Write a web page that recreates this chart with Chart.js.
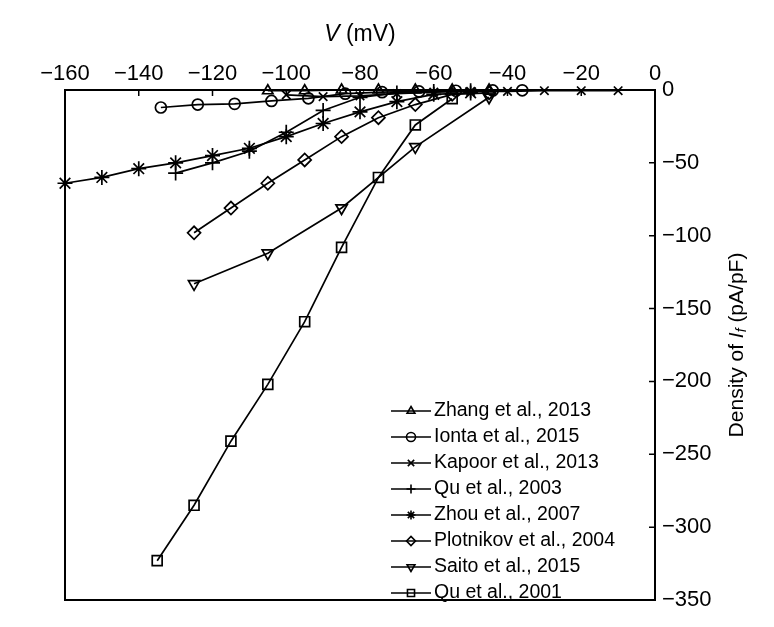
<!DOCTYPE html>
<html>
<head>
<meta charset="utf-8">
<script src="https://cdn.jsdelivr.net/npm/chart.js@4.4.0/dist/chart.umd.min.js"></script>
<style>
  html, body { margin: 0; padding: 0; background: #fff; }
  #wrap { width: 774px; height: 627px; }
</style>
</head>
<body>
<div id="wrap"><canvas id="ivChart" width="774" height="627"></canvas></div>
<script>
// Voltage (mV) and current density (pA/pF)
const zhangV = [-105, -95, -85, -75, -65, -55, -45];
const zhangI = [-0.5, -0.5, 0, 0, 0, 0, 0];

const iontaV = [-134, -124, -114, -104, -94, -84, -74, -64, -54, -44, -36];
const iontaI = [-12, -10, -9.5, -7.5, -5.7, -2.5, -1.5, -1, -0.5, -0.3, -0.2];

const kapoorV = [-100, -90, -80, -70, -60, -50, -40, -30, -20, -10];
const kapoorI = [-3.4, -4.5, -4, -2.5, -1.5, -1, -1, -0.5, -0.5, -0.5];

const qu2003V = [-130, -120, -110, -100, -90, -80, -70, -60, -50];
const qu2003I = [-57, -50, -42, -29, -14, -5, -2, -1, -0.5];

const zhouV = [-160, -150, -140, -130, -120, -110, -100, -90, -80, -70, -60, -50];
const zhouI = [-64, -60, -54, -50, -45, -40, -32, -23, -15, -8, -3, -2];

const plotnikovV = [-125, -115, -105, -95, -85, -75, -65, -55, -45];
const plotnikovI = [-98, -81, -64, -48, -32, -19, -10, -3, -2];

const saitoV = [-125, -105, -85, -65, -45];
const saitoI = [-133, -112, -81, -39, -5];

const qu2001V = [-135, -125, -115, -105, -95, -85, -75, -65, -55];
const qu2001I = [-323, -285, -241, -202, -159, -108, -60, -24, -6];

const xTicks = [-160, -140, -120, -100, -80, -60, -40, -20, 0];
const yTicks = [0, -50, -100, -150, -200, -250, -300, -350];

const FONT = '"Liberation Sans", Arial, sans-serif';

function pts(xs, ys) {
    return xs.map((x, i) => ({ x: x, y: ys[i] }));
}

function series(label, xs, ys, style, rotation, radius) {
    return {
        label: label,
        data: pts(xs, ys),
        borderColor: '#000',
        backgroundColor: 'rgba(0,0,0,0)',
        borderWidth: 1.7,
        pointStyle: style,
        pointRotation: rotation || 0,
        pointRadius: radius || 5,
        pointBorderWidth: 1.7,
        pointBorderColor: '#000',
        pointBackgroundColor: 'rgba(0,0,0,0)',
        tension: 0,
        clip: false
    };
}

const datasets = [
    series('Zhang et al., 2013', zhangV, zhangI, 'triangle', 0, 6),
    series('Ionta et al., 2015', iontaV, iontaI, 'circle', 0, 5.5),
    series('Kapoor et al., 2013', kapoorV, kapoorI, 'crossRot', 0, 6),
    series('Qu et al., 2003', qu2003V, qu2003I, 'cross', 0, 7.5),
    series('Zhou et al., 2007', zhouV, zhouI, 'star', 0, 7.5),
    series('Plotnikov et al., 2004', plotnikovV, plotnikovI, 'rectRot', 0, 6.5),
    series('Saito et al., 2015', saitoV, saitoI, 'triangle', 180, 6.5),
    series('Qu et al., 2001', qu2001V, qu2001I, 'rect', 0, 7)
];

// box, inward ticks, titles and the in-plot legend
const framePlugin = {
    id: 'frame',
    afterDraw(chart) {
        const ctx = chart.ctx;
        const a = chart.chartArea;
        const xs = chart.scales.x;
        const ys = chart.scales.y;
        ctx.save();
        ctx.strokeStyle = '#000';
        ctx.lineWidth = 2;
        ctx.strokeRect(a.left, a.top, a.right - a.left, a.bottom - a.top);

        ctx.lineWidth = 1.5;
        ctx.beginPath();
        xTicks.forEach(v => {
            const px = xs.getPixelForValue(v);
            ctx.moveTo(px, a.top);
            ctx.lineTo(px, a.top + 6);
        });
        yTicks.forEach(v => {
            const py = ys.getPixelForValue(v);
            ctx.moveTo(a.right, py);
            ctx.lineTo(a.right - 6, py);
        });
        ctx.stroke();

        // top title: V (mV)
        ctx.fillStyle = '#000';
        ctx.textBaseline = 'middle';
        const cx = (a.left + a.right) / 2;
        ctx.font = 'italic 23px ' + FONT;
        const wV = ctx.measureText('V').width;
        ctx.font = '23px ' + FONT;
        const wRest = ctx.measureText(' (mV)').width;
        let x0 = cx - (wV + wRest) / 2;
        ctx.textAlign = 'left';
        ctx.font = 'italic 23px ' + FONT;
        ctx.fillText('V', x0, 35);
        ctx.font = '23px ' + FONT;
        ctx.fillText(' (mV)', x0 + wV, 35);

        // right title: Density of I_f (pA/pF)
        ctx.save();
        ctx.translate(737, (a.top + a.bottom) / 2);
        ctx.rotate(-Math.PI / 2);
        const parts = [
            { t: 'Density of ', f: '21px ' + FONT, dy: 0 },
            { t: 'I', f: 'italic 21px ' + FONT, dy: 0 },
            { t: 'f', f: 'italic 14px ' + FONT, dy: 5 },
            { t: ' (pA/pF)', f: '21px ' + FONT, dy: 0 }
        ];
        let total = 0;
        parts.forEach(p => { ctx.font = p.f; p.w = ctx.measureText(p.t).width; total += p.w; });
        let px = -total / 2;
        parts.forEach(p => {
            ctx.font = p.f;
            ctx.fillText(p.t, px, p.dy);
            px += p.w;
        });
        ctx.restore();

        // legend
        const lx0 = 391, lx1 = 431, ly0 = 411, step = 26;
        chart.data.datasets.forEach((ds, i) => {
            const y = ly0 + i * step;
            ctx.strokeStyle = '#000';
            ctx.lineWidth = 1.6;
            ctx.beginPath();
            ctx.moveTo(lx0, y);
            ctx.lineTo(lx1, y);
            ctx.stroke();
            ctx.fillStyle = 'rgba(0,0,0,0)';
            Chart.helpers.drawPoint(ctx, {
                pointStyle: ds.pointStyle,
                rotation: ds.pointRotation,
                radius: ds.pointStyle === 'rect' ? 5 : 4.5,
                borderWidth: 1.4
            }, (lx0 + lx1) / 2, y);
            ctx.fillStyle = '#000';
            ctx.font = '19.5px ' + FONT;
            ctx.textAlign = 'left';
            ctx.textBaseline = 'middle';
            ctx.fillText(ds.label, lx1 + 3, y);
        });
        ctx.restore();
    }
};

const minusSign = v => String(v).replace('-', '\u2212');

new Chart(document.getElementById('ivChart'), {
    type: 'line',
    data: { datasets: datasets },
    options: {
        responsive: false,
        animation: false,
        layout: { padding: { left: 65, top: 0, right: 0, bottom: 27 } },
        plugins: {
            legend: { display: false },
            tooltip: { enabled: false }
        },
        scales: {
            x: {
                type: 'linear',
                position: 'top',
                min: -160,
                max: 0,
                grid: { display: false, drawTicks: false },
                border: { display: false },
                afterFit: scale => { scale.height = 90; },
                afterBuildTicks: scale => { scale.ticks = xTicks.map(v => ({ value: v })); },
                ticks: {
                    color: '#000',
                    padding: 3,
                    maxRotation: 0,
                    font: { family: FONT, size: 22 },
                    callback: minusSign
                }
            },
            y: {
                type: 'linear',
                position: 'right',
                min: -350,
                max: 0,
                grid: { display: false, drawTicks: false },
                border: { display: false },
                afterFit: scale => { scale.width = 119; },
                afterBuildTicks: scale => { scale.ticks = yTicks.map(v => ({ value: v })); },
                ticks: {
                    color: '#000',
                    padding: 7,
                    font: { family: FONT, size: 22 },
                    callback: minusSign
                }
            }
        }
    },
    plugins: [framePlugin]
});
</script>
</body>
</html>
